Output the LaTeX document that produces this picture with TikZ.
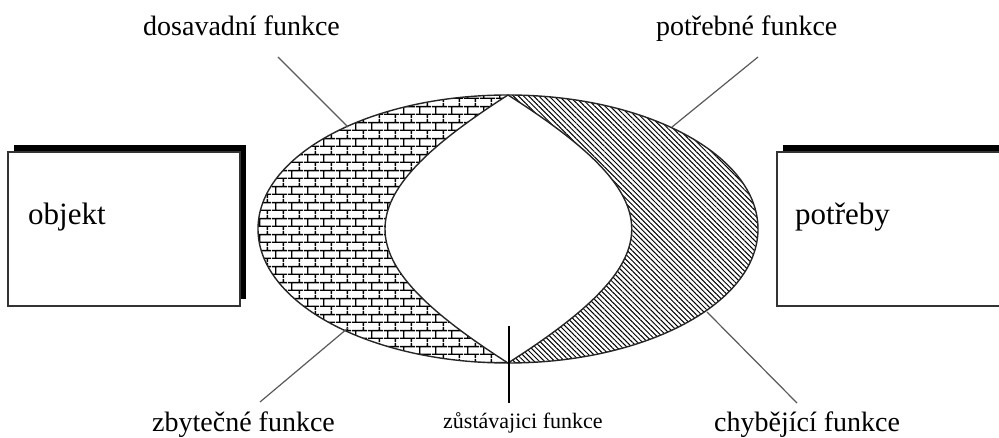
\documentclass[tikz,border=0pt]{standalone}
\usepackage{fontspec}
\setmainfont{Liberation Serif}
\usetikzlibrary{shadows,patterns,patterns.meta}

% brick pattern, 16x8 bricks
\pgfdeclarepatternformonly{brickwall}{\pgfpointorigin}{\pgfpoint{16pt}{16pt}}{\pgfpoint{16pt}{16pt}}
{
  \pgfsetlinewidth{1.5pt}
  \pgfpathmoveto{\pgfpoint{0pt}{4pt}}\pgfpathlineto{\pgfpoint{16pt}{4pt}}
  \pgfpathmoveto{\pgfpoint{0pt}{12pt}}\pgfpathlineto{\pgfpoint{16pt}{12pt}}
  \pgfpathmoveto{\pgfpoint{4pt}{4pt}}\pgfpathlineto{\pgfpoint{4pt}{12pt}}
  \pgfpathmoveto{\pgfpoint{12pt}{12pt}}\pgfpathlineto{\pgfpoint{12pt}{16pt}}
  \pgfpathmoveto{\pgfpoint{12pt}{0pt}}\pgfpathlineto{\pgfpoint{12pt}{4pt}}
  \pgfusepath{stroke}
}

\begin{document}
\begin{tikzpicture}[x=1pt,y=-1pt,
  box/.style={draw=black!80, line width=1.3pt, fill=white,
    minimum width=232pt, minimum height=154pt, inner sep=0pt,
    drop shadow={shadow xshift=6pt, shadow yshift=7pt, opacity=1, fill=black}},
  boxtext/.style={font=\fontsize{31}{34}\selectfont, inner sep=0pt},
  bigtext/.style={font=\fontsize{28}{32}\selectfont, inner sep=0pt},
  smalltext/.style={font=\fontsize{22}{26}\selectfont, inner sep=0pt},
  leader/.style={draw=black!65, line width=1.2pt},
  outline/.style={draw=black!85, line width=1.4pt}]
\useasboundingbox (0,0) rectangle (999,438);
\clip (0,0) rectangle (999,438);

% the two boxes
\node[box] (objekt) at (124,229) {};
\node[box] (potreby) at (893,229) {};
\node[boxtext, anchor=base west] (objekttext) at (28,225) {objekt};
\node[boxtext, anchor=base west] (potrebytext) at (795,225) {potřeby};

% the ellipse and the lens inside it
\coordinate (eC) at (508,229);
\coordinate (eT) at (508,95);
\coordinate (eB) at (508,363);
\fill[pattern=brickwall] (eT) arc[start angle=270, end angle=90, x radius=250, y radius=134]
  .. controls (344,258) and (344,200) .. (eT) -- cycle;
\fill[pattern={Lines[angle=-45, distance=3.6pt, line width=1pt]}]
  (eT) arc[start angle=-90, end angle=90, x radius=250, y radius=134]
  .. controls (673,258) and (673,200) .. (eT) -- cycle;
\draw[outline] (eC) ellipse[x radius=250, y radius=134];
\draw[outline] (eT) .. controls (344,200) and (344,258) .. (eB)
  .. controls (673,258) and (673,200) .. (eT);

% labels
\node[bigtext, anchor=base west] (dosavadni) at (143,36) {dosavadní funkce};
\node[bigtext, anchor=base west] (potrebne) at (656,36) {potřebné funkce};
\node[bigtext, anchor=base west] (zbytecne) at (152,431) {zbytečné funkce};
\node[smalltext, anchor=base west] (zustavajici) at (443,428) {zůstávajici funkce};
\node[bigtext, anchor=base west] (chybejici) at (714,431) {chybějící funkce};

% leader lines
\coordinate (dosA) at (278,57);
\coordinate (dosB) at (348,127);
\coordinate (potA) at (758,57);
\coordinate (potB) at (672,127);
\coordinate (zbyA) at (348,328);
\coordinate (zbyB) at (260,402);
\coordinate (chyA) at (707,312);
\coordinate (chyB) at (797,403);
\coordinate (zusA) at (509,326);
\coordinate (zusB) at (509,403);
\draw[leader] (dosA) -- (dosB);
\draw[leader] (potA) -- (potB);
\draw[leader] (zbyA) -- (zbyB);
\draw[leader] (chyA) -- (chyB);
\draw[black, line width=1.5pt] (zusA) -- (zusB);
\end{tikzpicture}
\end{document}
